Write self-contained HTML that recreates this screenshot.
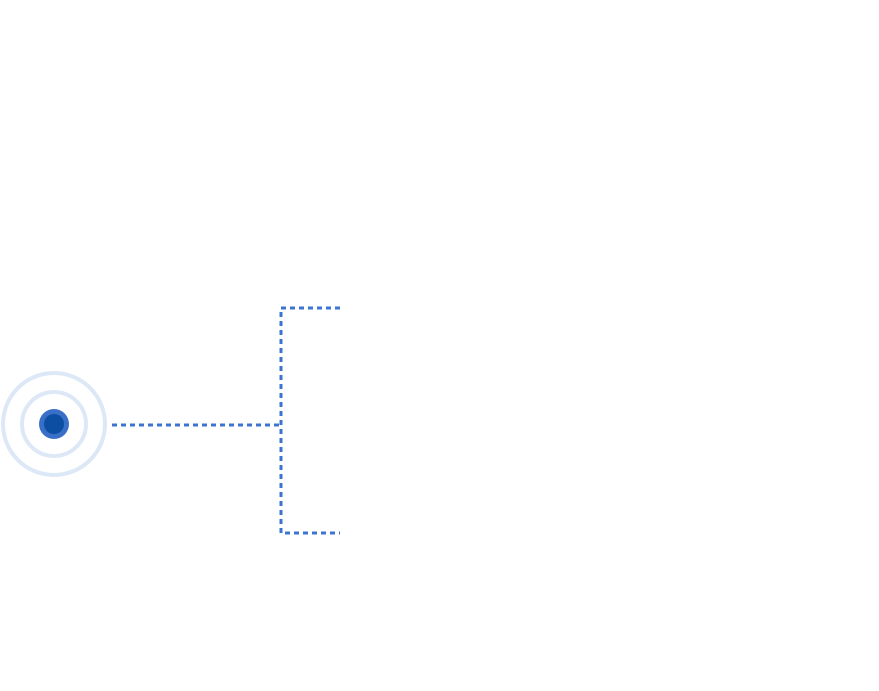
<!DOCTYPE html>
<html><head><style>html,body{margin:0;padding:0;background:#fff;}</style></head>
<body>
<svg width="879" height="686" xmlns="http://www.w3.org/2000/svg">
<circle cx="54" cy="424" r="51" fill="none" stroke="#dde8f7" stroke-width="4"/>
<circle cx="54" cy="424" r="32" fill="none" stroke="#dde8f7" stroke-width="4"/>
<circle cx="54" cy="424" r="15" fill="#3a6fc8"/>
<circle cx="54" cy="424" r="10" fill="#0b4ea2"/>
<g fill="none" stroke="#3d74d0" stroke-width="3" stroke-dasharray="5 4">
<line x1="112" y1="425" x2="281" y2="425"/>
<polyline points="340,308 281,308 281,533 340,533"/>
</g>
</svg>
</body></html>
